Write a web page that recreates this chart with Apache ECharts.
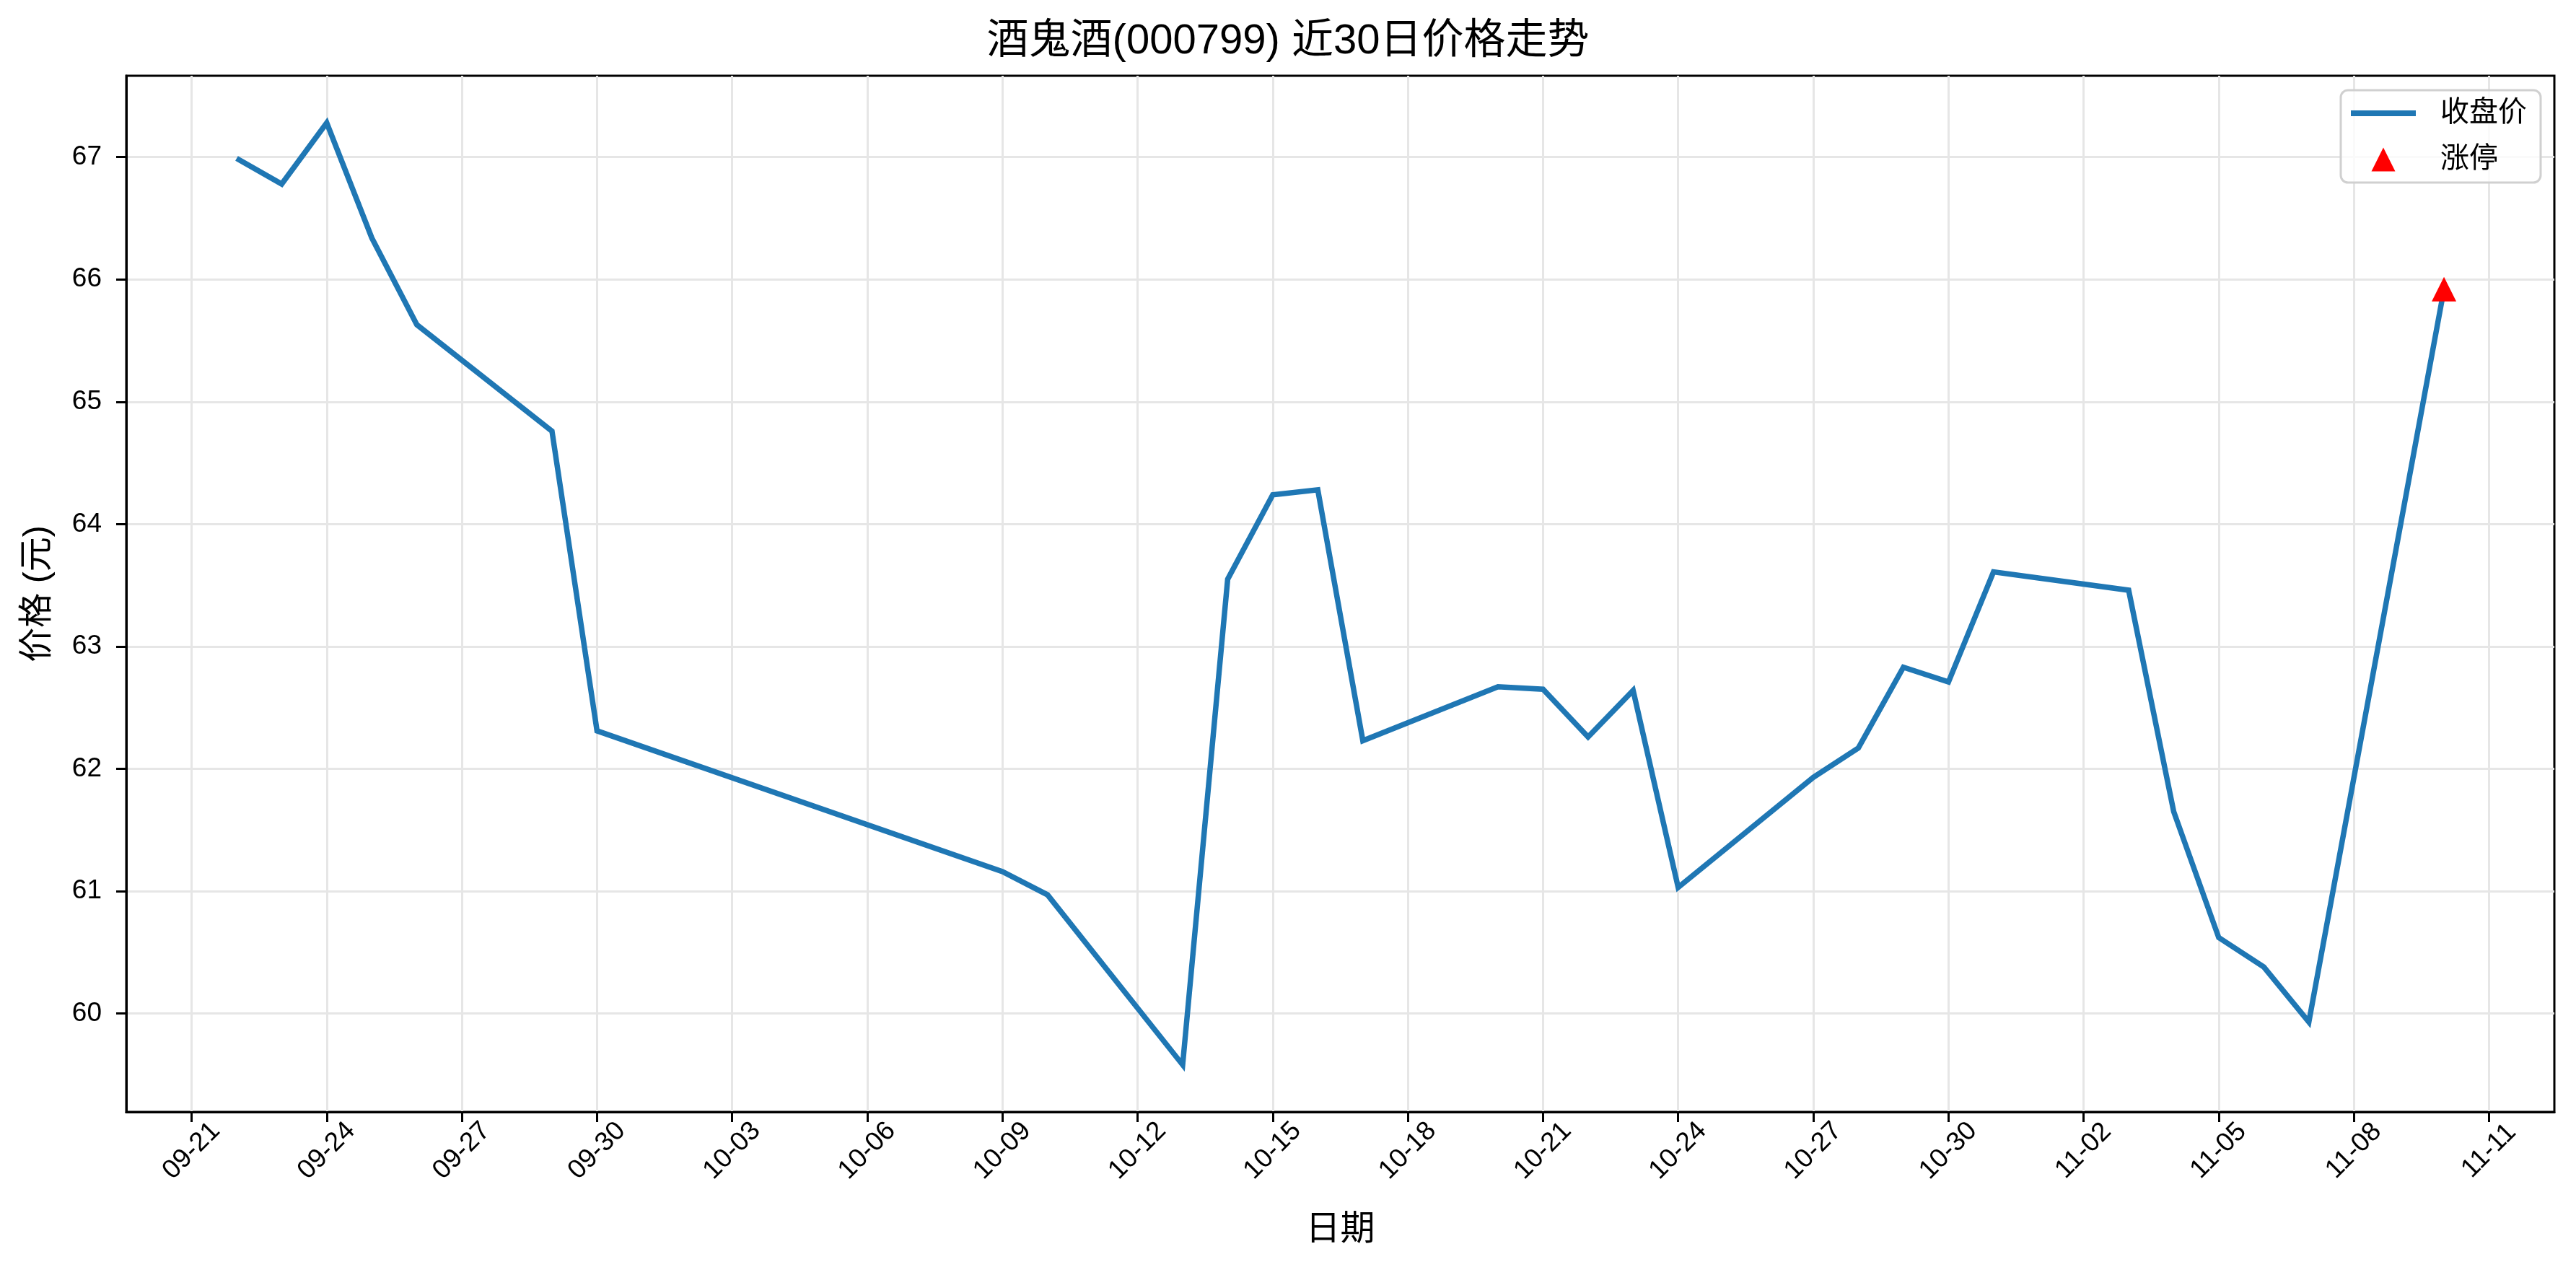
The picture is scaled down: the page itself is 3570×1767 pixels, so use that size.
<!DOCTYPE html>
<html>
<head>
<meta charset="utf-8">
<script src="https://cdn.jsdelivr.net/npm/echarts@6/dist/echarts.min.js"></script>
<style>
html,body{margin:0;padding:0;background:#fff;}
#c{width:3570px;height:1767px;}
</style>
</head>
<body>
<div id="c"></div>
<script>
const YEAR = 2025;
const dates = ['09-22','09-23','09-24','09-25','09-26','09-29','09-30','10-09','10-10','10-13',
  '10-14','10-15','10-16','10-17','10-20','10-21','10-22','10-23','10-24','10-27',
  '10-28','10-29','10-30','10-31','11-03','11-04','11-05','11-06','11-07','11-10'];
const closes = [66.99,66.78,67.28,66.34,65.63,64.76,62.31,61.16,60.97,59.58,
  63.55,64.24,64.28,62.23,62.67,62.65,62.26,62.64,61.03,61.93,
  62.17,62.83,62.71,63.61,63.46,61.65,60.62,60.38,59.93,65.92];
const limitUpDates = ['11-10'];
const xTickLabels = ['09-21','09-24','09-27','09-30','10-03','10-06','10-09','10-12','10-15',
  '10-18','10-21','10-24','10-27','10-30','11-02','11-05','11-08','11-11'];
const yTickValues = [60,61,62,63,64,65,66,67];

const FONT = "'Liberation Sans', Arial, 'Noto Sans CJK SC', sans-serif";
const DAY = 86400000;
function dayNum(md){ const p = md.split('-'); return Date.UTC(YEAR, +p[0]-1, +p[1]) / DAY; }
function fmtDay(v){ const d = new Date(Math.round(v)*DAY); return String(d.getUTCMonth()+1).padStart(2,'0')+'-'+String(d.getUTCDate()).padStart(2,'0'); }

const lineData = dates.map((d,i)=>[dayNum(d), closes[i]]);
const limitData = limitUpDates.map(d=>[dayNum(d), closes[dates.indexOf(d)]]);
const xTickValues = xTickLabels.map(dayNum);

const xs = lineData.map(p=>p[0]);
const xSpan = Math.max(...xs) - Math.min(...xs);
const xMin = Math.min(...xs) - 0.05*xSpan, xMax = Math.max(...xs) + 0.05*xSpan;
const ySpan = Math.max(...closes) - Math.min(...closes);
const yMin = Math.min(...closes) - 0.05*ySpan, yMax = Math.max(...closes) + 0.05*ySpan;

const chart = echarts.init(document.getElementById('c'), null, {renderer:'canvas'});
chart.setOption({
  backgroundColor:'#ffffff',
  animation:false,
  title:{
    text:'酒鬼酒(000799) 近30日价格走势',
    left:'center', top:24,
    textStyle:{fontFamily:FONT, fontSize:58, fontWeight:'normal', color:'#000'}
  },
  legend:{
    orient:'vertical', right:49, top:125,
    backgroundColor:'rgba(255,255,255,0.8)',
    borderColor:'#d0d0d0', borderWidth:3, borderRadius:10,
    padding:[12,19,12,14],
    itemWidth:90, itemHeight:33, itemGap:24,
    symbolKeepAspect:true,
    textStyle:{fontFamily:FONT, fontSize:40, color:'#000', padding:[0,0,0,29]},
    data:[
      {name:'收盘价', icon:'path://M0,0 H90 V8 H0 Z', itemStyle:{color:'#1f77b4', borderWidth:0}},
      {name:'涨停', icon:'path://M1,0 L2,2 L0,2 Z', itemStyle:{color:'#ff0000', borderWidth:0}}
    ]
  },
  grid:{
    left:175, right:30, top:105, bottom:226,
    show:true, borderColor:'#000', borderWidth:3, backgroundColor:'transparent'
  },
  xAxis:{
    type:'value', min:xMin, max:xMax, scale:true,
    name:'日期', nameLocation:'middle', nameGap:140,
    nameTextStyle:{fontFamily:FONT, fontSize:48, color:'#000'},
    axisLine:{show:true, onZero:false, lineStyle:{color:'#000', width:3}},
    axisTick:{show:true, length:14, lineStyle:{color:'#000', width:3}, customValues:xTickValues},
    axisLabel:{
      customValues:xTickValues, rotate:45, align:'center', verticalAlign:'middle', margin:54,
      fontFamily:FONT, fontSize:37, color:'#000',
      formatter:function(v){ return fmtDay(v); }
    },
    splitLine:{show:true, lineStyle:{color:'#e6e6e6', width:3}}
  },
  yAxis:{
    type:'value', min:yMin, max:yMax, scale:true,
    name:'价格 (元)', nameLocation:'middle', nameGap:98, nameRotate:90,
    nameTextStyle:{fontFamily:FONT, fontSize:48, color:'#000'},
    axisLine:{show:true, onZero:false, lineStyle:{color:'#000', width:3}},
    axisTick:{show:true, length:14, lineStyle:{color:'#000', width:3}, customValues:yTickValues},
    axisLabel:{customValues:yTickValues, margin:34, fontFamily:FONT, fontSize:37, color:'#000'},
    splitLine:{show:true, lineStyle:{color:'#e6e6e6', width:3}}
  },
  series:[
    {
      name:'收盘价', type:'line', data:lineData, symbol:'none',
      lineStyle:{color:'#1f77b4', width:7.5, join:'miter'},
      itemStyle:{color:'#1f77b4'}, z:2
    },
    {
      name:'涨停', type:'scatter', data:limitData, symbol:'triangle', symbolSize:34,
      itemStyle:{color:'#ff0000', opacity:1}, z:3
    }
  ]
});
</script>
</body>
</html>
